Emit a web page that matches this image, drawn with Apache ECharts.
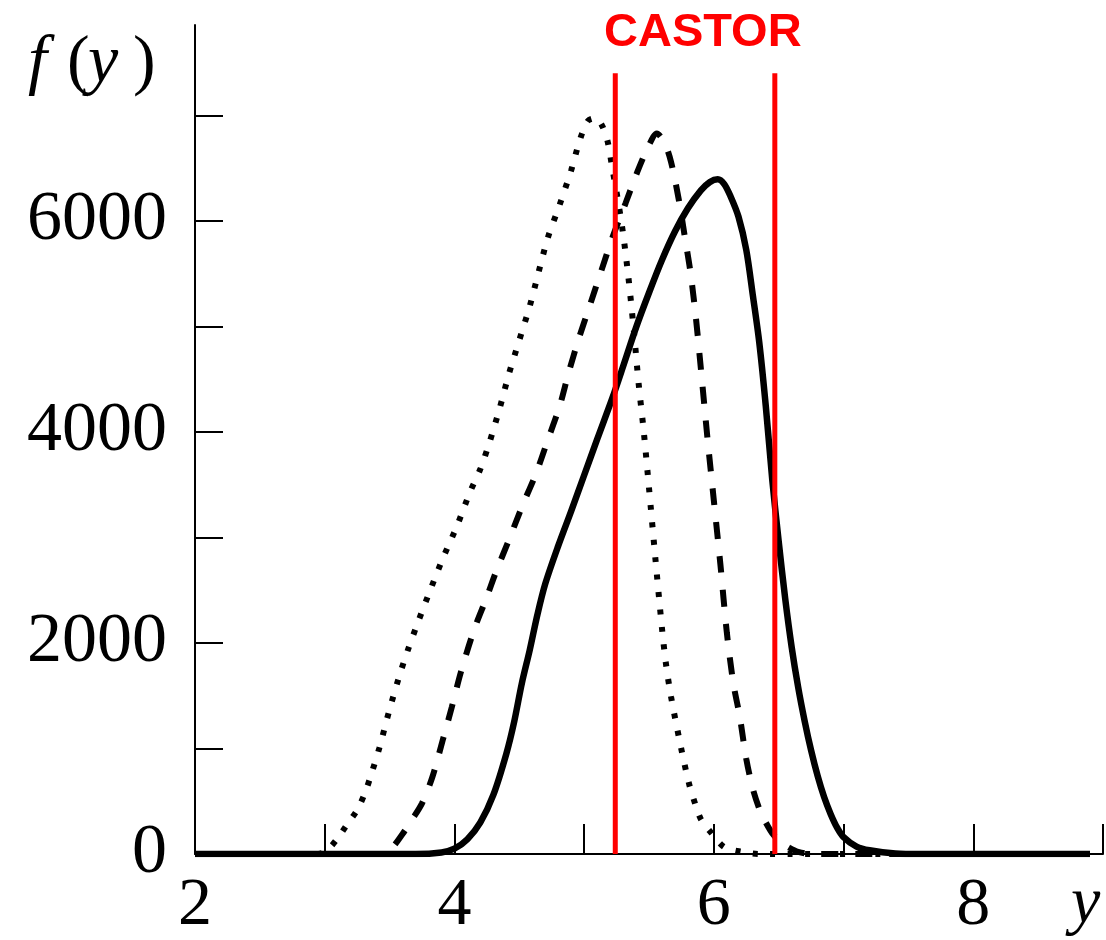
<!DOCTYPE html>
<html>
<head>
<meta charset="utf-8">
<script src="https://cdn.jsdelivr.net/npm/echarts@6/dist/echarts.min.js"></script>
<style>
html,body{margin:0;padding:0;background:#fff;}
#c{width:1106px;height:940px;}
</style>
</head>
<body>
<div id="c"></div>
<script>
// x ticks / labels
const xTicks = [2, 3, 4, 5, 6, 7, 8, 9];
const xLabels = [2, 4, 6, 8];
const yLabels = [0, 2000, 4000, 6000];

// solid curve [y, f(y)]
const solid = [
  [2.0, 0], [3.7, 0], [3.9, 15], [4.0, 50], [4.1, 140], [4.2, 300], [4.3, 560], [4.4, 950],
  [4.46, 1250], [4.52, 1620], [4.58, 1930], [4.64, 2270], [4.7, 2560], [4.8, 2920],
  [4.9, 3250], [5.0, 3590], [5.1, 3930], [5.22, 4330], [5.3, 4620], [5.4, 4990],
  [5.5, 5320], [5.6, 5630], [5.7, 5900], [5.8, 6120], [5.9, 6290], [5.97, 6370],
  [6.03, 6395], [6.08, 6350], [6.13, 6230], [6.19, 6040], [6.25, 5725], [6.3, 5300],
  [6.35, 4850], [6.4, 4250], [6.45, 3550], [6.5, 2960], [6.55, 2420], [6.6, 1960],
  [6.65, 1580], [6.7, 1260], [6.75, 980], [6.8, 740], [6.85, 540], [6.9, 380],
  [6.95, 250], [7.0, 160], [7.1, 70], [7.2, 35], [7.4, 5], [7.6, 0], [8.9, 0]
];

// dashed curve
const dashed = [
  [2.0, 0], [3.45, 0], [3.52, 60], [3.6, 190], [3.67, 320], [3.75, 480], [3.83, 730],
  [3.91, 1080], [3.98, 1393], [4.05, 1725], [4.15, 2120], [4.25, 2436], [4.32, 2673],
  [4.42, 2976], [4.52, 3290], [4.63, 3610], [4.72, 3925], [4.81, 4240], [4.88, 4560],
  [4.96, 4890], [5.04, 5185], [5.13, 5520], [5.22, 5850], [5.32, 6170], [5.41, 6465],
  [5.5, 6720], [5.56, 6830], [5.62, 6740], [5.67, 6560], [5.73, 6200], [5.78, 5820],
  [5.82, 5510], [5.86, 5100], [5.9, 4600], [5.95, 3950], [6.0, 3350], [6.05, 2750],
  [6.1, 2100], [6.15, 1620], [6.2, 1300], [6.25, 900], [6.3, 620], [6.35, 430],
  [6.4, 300], [6.46, 180], [6.52, 110], [6.58, 60], [6.65, 20], [6.75, 0], [8.5, 0]
];

// dotted curve
const dotted = [
  [2.0, 0], [2.95, 0], [3.02, 40], [3.09, 133], [3.17, 275], [3.25, 417], [3.31, 578],
  [3.36, 760], [3.42, 1000], [3.5, 1370], [3.58, 1706], [3.64, 1930], [3.72, 2200],
  [3.81, 2490], [3.91, 2800], [4.02, 3110], [4.12, 3430], [4.2, 3650], [4.27, 3900],
  [4.35, 4230], [4.42, 4550], [4.5, 4870], [4.58, 5190], [4.65, 5520], [4.72, 5840],
  [4.81, 6150], [4.9, 6480], [4.97, 6780], [5.03, 6950], [5.09, 6975], [5.14, 6900],
  [5.18, 6760], [5.22, 6480], [5.26, 6200], [5.3, 5880], [5.34, 5480], [5.38, 5000],
  [5.42, 4460], [5.46, 4000], [5.5, 3470], [5.55, 2790], [5.6, 2140], [5.63, 1810],
  [5.67, 1490], [5.75, 990], [5.81, 660], [5.86, 460], [5.9, 330], [5.98, 200],
  [6.08, 66], [6.22, 20], [6.35, 0], [8.0, 0]
];

// CASTOR limits
const castorX = [5.24, 6.47];
const castorTop = 7400;

const chart = echarts.init(document.getElementById('c'), null, {renderer: 'canvas'});
const serif = '"Liberation Serif", "DejaVu Serif", serif';
const left = 195, right = 1, bottom = 86, top0 = 25;
const pxPerUnitY = 105.5 / 1000;
const yMax0 = (940 - bottom - top0) / pxPerUnitY;
const top1 = 940 - bottom - 7000 * pxPerUnitY;

const redSeries = castorX.map(x => ({
  type: 'line', xAxisIndex: 0, yAxisIndex: 0,
  data: [[x, 0], [x, castorTop]],
  showSymbol: false, silent: true, z: 10,
  lineStyle: {color: '#ff0000', width: 5}
}));

chart.setOption({
  animation: false,
  backgroundColor: '#ffffff',
  grid: [
    {left: left, right: right, top: top0, bottom: bottom},
    {left: left, right: right, top: top1, bottom: bottom}
  ],
  xAxis: [
    {
      type: 'value', gridIndex: 0, min: xTicks[0], max: xTicks[xTicks.length - 1], interval: 1,
      axisLine: {show: true, lineStyle: {color: '#000', width: 2}},
      axisTick: {show: true, inside: true, length: 30, lineStyle: {color: '#000', width: 2}},
      axisLabel: {
        show: true, margin: 18, color: '#000', fontFamily: serif, fontSize: 68,
        formatter: v => (xLabels.indexOf(v) >= 0 ? String(v) : '')
      },
      splitLine: {show: false}
    },
    {type: 'value', gridIndex: 1, min: 2, max: 9, show: false}
  ],
  yAxis: [
    {
      type: 'value', gridIndex: 0, min: 0, max: yMax0,
      axisLine: {show: true, lineStyle: {color: '#000', width: 2}},
      axisTick: {show: false}, axisLabel: {show: false}, splitLine: {show: false}
    },
    {
      type: 'value', gridIndex: 1, min: 0, max: 7000, interval: 1000,
      axisLine: {show: false},
      axisTick: {show: true, inside: true, length: 28, lineStyle: {color: '#000', width: 2}},
      axisLabel: {
        show: true, margin: 28, color: '#000', fontFamily: serif, fontSize: 70,
        formatter: v => (yLabels.indexOf(v) >= 0 ? String(v) : '')
      },
      splitLine: {show: false}
    }
  ],
  series: [
    {
      type: 'line', data: solid, showSymbol: false, smooth: 0.3,
      lineStyle: {color: '#000', width: 6.5, join: 'round'}, z: 3
    },
    {
      type: 'line', data: dashed, showSymbol: false, smooth: 0.3,
      lineStyle: {color: '#000', width: 6, type: [17, 17]}, z: 3
    },
    {
      type: 'line', data: dotted, showSymbol: false, smooth: 0.3,
      lineStyle: {color: '#000', width: 6, type: [5, 12.5]}, z: 3
    }
  ].concat(redSeries),
  graphic: [
    {type: 'text', left: 28, top: 30, style: {text: 'f', font: 'italic 68px ' + serif, fill: '#000'}},
    {type: 'text', left: 67, top: 30, style: {text: '(', font: '68px ' + serif, fill: '#000'}},
    {type: 'text', left: 88, top: 30, style: {text: 'y', font: 'italic 68px ' + serif, fill: '#000'}},
    {type: 'text', left: 133, top: 30, style: {text: ')', font: '68px ' + serif, fill: '#000'}},
    {type: 'text', left: 1071, top: 872, style: {text: 'y', font: 'italic 66px ' + serif, fill: '#000'}},
    {type: 'text', left: 604, top: 10, style: {text: 'CASTOR', font: 'bold 47px "Liberation Sans", Arial, sans-serif', fill: '#ff0000'}}
  ]
});
</script>
</body>
</html>
